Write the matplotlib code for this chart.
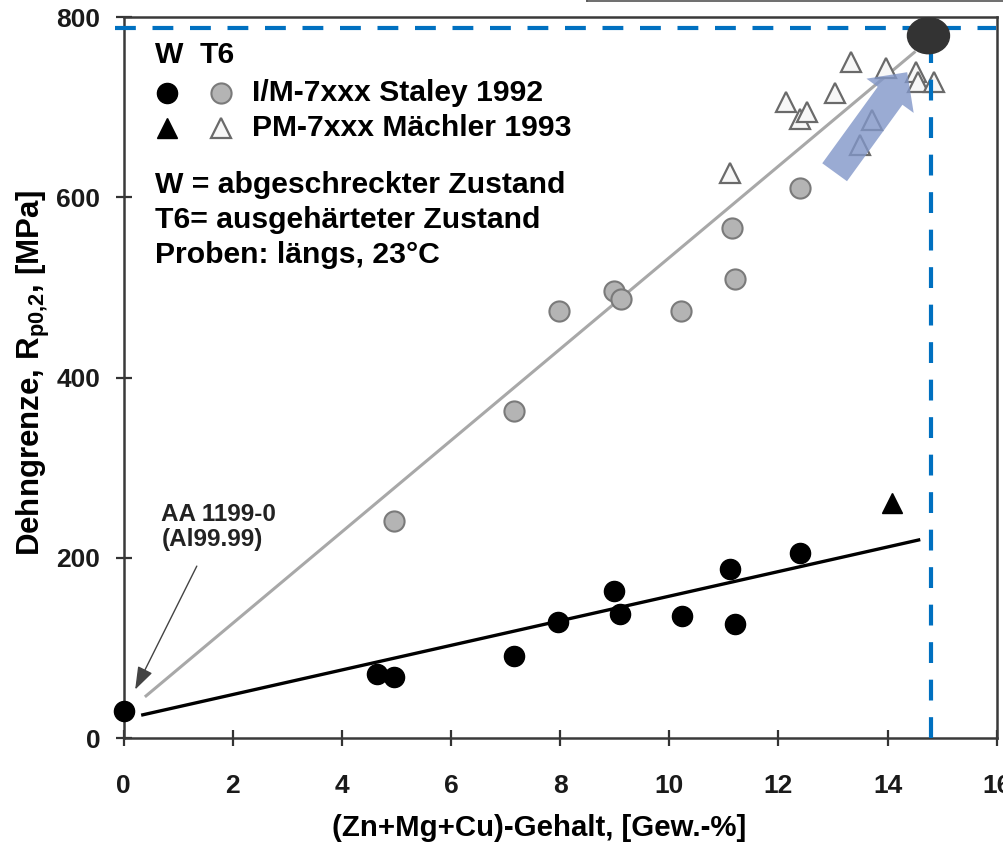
import numpy as np
import matplotlib.pyplot as plt
from matplotlib.patches import Ellipse, FancyArrowPatch
from matplotlib.lines import Line2D

plt.rcParams['font.family'] = ['Liberation Sans', 'DejaVu Sans']
plt.rcParams['font.weight'] = 'bold'
plt.rcParams['mathtext.fontset'] = 'custom'
plt.rcParams['mathtext.rm'] = 'Liberation Sans'
plt.rcParams['mathtext.bf'] = 'Liberation Sans:bold'

# W (quenched) state, I/M-7xxx Staley 1992
w_im_x = [0.0, 4.65, 4.96, 7.15, 7.96, 8.98, 9.10, 10.23, 11.12, 11.20, 12.40]
w_im_y = [30, 71, 68, 91, 129, 163, 138, 136, 188, 127, 206]
# T6 state, I/M-7xxx Staley 1992
t6_im_x = [4.95, 7.15, 7.97, 8.98, 9.11, 10.22, 11.14, 11.20, 12.39]
t6_im_y = [241, 363, 474, 496, 487, 474, 566, 509, 611]
# W state, PM-7xxx Maechler 1993
w_pm_x = [14.08]
w_pm_y = [261]
# T6 state, PM-7xxx Maechler 1993
t6_pm_x = [11.12, 12.14, 12.39, 12.53, 13.03, 13.33, 13.49, 13.71, 13.97, 14.52, 14.55, 14.86]
t6_pm_y = [627, 706, 687, 695, 716, 750, 658, 686, 744, 739, 728, 728]

# trend lines
t6_fit_x = [0.41, 14.49]
t6_fit_y = [47, 761]
w_fit_x = [0.35, 14.57]
w_fit_y = [26, 220]

# target marker and guide lines
target_x = 14.79
target_y = 788
blob_xy = (14.75, 779.5)
push_from = (13.03, 628)
push_to = (14.36, 739)

# pure aluminium callout
al_text_xy = (0.69, 261)
al_arrow_from = (1.34, 191)
al_arrow_to = (0.21, 54)

x_ticks = [0, 2, 4, 6, 8, 10, 12, 14, 16]
y_ticks = [0, 200, 400, 600, 800]

fig = plt.figure(figsize=(10.04, 8.52), dpi=100)
ax = fig.add_axes([0.1232, 0.1335, 0.8695, 0.8463])

ax.plot(t6_fit_x, t6_fit_y, color='#a8a8a8', lw=2.2, zorder=2)
ax.plot(w_fit_x, w_fit_y, color='black', lw=2.4, zorder=2)

ax.plot(w_im_x, w_im_y, 'o', ms=14.5, mfc='black', mec='black', zorder=4, clip_on=False)
ax.plot(t6_im_x, t6_im_y, 'o', ms=14.5, mfc='#b4b4b4', mec='#7a7a7a', mew=1.5, zorder=4)
ax.plot(w_pm_x, w_pm_y, '^', ms=14.5, mfc='black', mec='black', zorder=4)
ax.plot(t6_pm_x, t6_pm_y, '^', ms=14.5, mfc='#f7f7f7', mec='#6a6a6a', mew=1.6, zorder=4)

# blue dashed guides
ax.plot([-0.16, 15.98], [target_y, target_y], color='#0070c0', lw=3, dashes=(5, 4),
        clip_on=False, zorder=5)
ax.plot([target_x, target_x], [0, target_y], color='#0070c0', lw=3, dashes=(5, 4),
        clip_on=False, zorder=5)

arrow = FancyArrowPatch(push_from, push_to,
                        arrowstyle='simple,tail_width=22,head_width=42,head_length=21',
                        mutation_scale=1, shrinkA=0, shrinkB=0,
                        color='#8196c8', alpha=0.8, lw=0, zorder=6)
ax.add_patch(arrow)

ax.add_patch(Ellipse(blob_xy, 0.77, 40, color='#333333', zorder=7, clip_on=False))

ax.text(al_text_xy[0], al_text_xy[1], 'AA 1199-0\n(Al99.99)', fontsize=17.5,
        color='#222222', ha='left', va='top', linespacing=1.1)
ax.annotate('', xy=al_arrow_to, xytext=al_arrow_from,
            arrowprops=dict(arrowstyle='-|>,head_length=1.0,head_width=0.35',
                            color='#444444', lw=1.0, shrinkA=0, shrinkB=0,
                            mutation_scale=14))

ax.set_xlim(0, 16)
ax.set_ylim(0, 800)
ax.set_xticks(x_ticks)
ax.set_yticks(y_ticks)
ax.tick_params(direction='inout', length=11.5, width=1.6, colors='#333333',
               labelcolor='#1a1a1a', labelsize=19)
ax.tick_params(axis='x', pad=20)
ax.tick_params(axis='y', pad=11)
for s in ax.spines.values():
    s.set_color('#3a3a3a')
    s.set_linewidth(1.8)

ax.set_xlabel('(Zn+Mg+Cu)-Gehalt, [Gew.-%]', fontsize=21.2, fontweight='bold', va='center')
ax.xaxis.set_label_coords(0.4757, -0.1244)
ax.set_ylabel(r'Dehngrenze, R$_{\mathrm{p0{,}2}}$, [MPa]', fontsize=22.5,
              fontweight='bold', va='center')
ax.yaxis.set_label_coords(-0.103, 0.507)

# legend block drawn by hand
tr = ax.transAxes
fs = 21.7
ax.text(0.0359, 0.948, 'W', transform=tr, fontsize=fs, va='center')
ax.text(0.0874, 0.948, 'T6', transform=tr, fontsize=fs, va='center')
ax.plot([0.0496], [0.895], 'o', ms=14.5, mfc='black', mec='black', transform=tr)
ax.plot([0.1111], [0.895], 'o', ms=14.5, mfc='#b4b4b4', mec='#7a7a7a', mew=1.5, transform=tr)
ax.text(0.147, 0.895, 'I/M-7xxx Staley 1992', transform=tr, fontsize=fs, va='center')
ax.plot([0.0496], [0.8465], '^', ms=14.5, mfc='black', mec='black', transform=tr)
ax.plot([0.1111], [0.8465], '^', ms=14.5, mfc='#f7f7f7', mec='#6a6a6a', mew=1.6, transform=tr)
ax.text(0.147, 0.8465, 'PM-7xxx Mächler 1993', transform=tr, fontsize=fs, va='center')
notes = ['W = abgeschreckter Zustand', 'T6= ausgehärteter Zustand', 'Proben: längs, 23°C']
for i, line in enumerate(notes):
    ax.text(0.0359, 0.7674 - i * 0.0486, line, transform=tr, fontsize=fs, va='center')

# cut-off frame at the top edge
fig.add_artist(Line2D([587 / 1004, 1.0], [0.9985, 0.9985], color='#555555', lw=1.2))
fig.add_artist(Line2D([587 / 1004, 587 / 1004], [0.9985, 1.0], color='#555555', lw=1.2))

fig.savefig('out.png', dpi=100, facecolor='white')
